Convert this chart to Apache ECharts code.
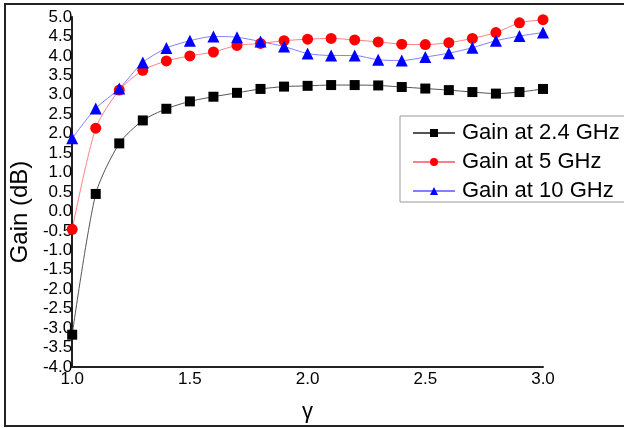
<!DOCTYPE html>
<html>
<head>
<meta charset="utf-8">
<script src="https://cdn.jsdelivr.net/npm/echarts@6/dist/echarts.min.js"></script>
<style>
  html, body { margin: 0; padding: 0; background: #fff; }
  #chart { width: 624px; height: 428px; }
</style>
</head>
<body>
<div id="chart"></div>
<script>
// Gain versus gamma at three frequencies
const gamma = [1.0, 1.1, 1.2, 1.3, 1.4, 1.5, 1.6, 1.7, 1.8, 1.9, 2.0,
               2.1, 2.2, 2.3, 2.4, 2.5, 2.6, 2.7, 2.8, 2.9, 3.0];
const gain24 = [-3.17, 0.45, 1.75, 2.34, 2.64, 2.83, 2.95, 3.05, 3.15, 3.21, 3.23,
                3.25, 3.25, 3.24, 3.20, 3.16, 3.12, 3.07, 3.03, 3.07, 3.15];
const gain5 = [-0.46, 2.14, 3.12, 3.63, 3.87, 4.00, 4.10, 4.27, 4.32, 4.39, 4.43,
               4.45, 4.41, 4.36, 4.30, 4.29, 4.34, 4.45, 4.60, 4.85, 4.93];
const gain10 = [1.88, 2.65, 3.16, 3.83, 4.20, 4.39, 4.50, 4.48, 4.37, 4.24, 4.06,
                4.01, 4.01, 3.90, 3.88, 3.97, 4.07, 4.21, 4.39, 4.51, 4.60];
const seriesNames = ['Gain at 2.4 GHz', 'Gain at 5 GHz', 'Gain at 10 GHz'];

const FONT = '"Liberation Sans", Arial, sans-serif';
const pairs = ys => gamma.map((g, i) => [g, ys[i]]);

const chart = echarts.init(document.getElementById('chart'), null, { renderer: 'canvas' });

function lineSeries(name, ys, symbol, size, markColor, lineColor) {
  return {
    name: name,
    type: 'line',
    data: pairs(ys),
    smooth: 0.25,
    symbol: symbol,
    symbolSize: size,
    showAllSymbol: true,
    clip: false,
    itemStyle: { color: markColor },
    lineStyle: { color: lineColor, width: 1 },
    emphasis: { disabled: true },
    animation: false
  };
}

chart.setOption({
  animation: false,
  backgroundColor: '#fff',
  textStyle: { fontFamily: FONT },
  grid: { left: 72, right: 81, top: 17, bottom: 59, containLabel: false },
  xAxis: {
    type: 'value',
    min: 1.0, max: 3.0, interval: 0.5,
    name: 'γ',
    nameLocation: 'middle',
    nameGap: 34,
    nameTextStyle: { fontSize: 22, color: '#000', fontFamily: FONT },
    axisLine: { show: true, onZero: false, lineStyle: { color: '#222', width: 2 } },
    axisTick: { show: false },
    splitLine: { show: false },
    axisLabel: {
      color: '#000', fontSize: 17, fontFamily: FONT, margin: 4,
      formatter: v => v.toFixed(1)
    }
  },
  yAxis: {
    type: 'value',
    min: -4.0, max: 5.0, interval: 0.5,
    name: 'Gain (dB)',
    nameLocation: 'middle',
    nameGap: 32,
    nameTextStyle: { fontSize: 24, color: '#000', fontFamily: FONT, padding: [0, 0, 0, -40] },
    axisLine: { show: true, onZero: false, lineStyle: { color: '#222', width: 2 } },
    axisTick: { show: false },
    splitLine: { show: false },
    axisLabel: {
      color: '#000', fontSize: 17, fontFamily: FONT, margin: 0,
      formatter: v => v.toFixed(1)
    }
  },
  legend: {
    left: 400, top: 116,
    orient: 'vertical',
    itemWidth: 42, itemHeight: 10, itemGap: 7,
    padding: [6, 40, 0, 12],
    borderColor: '#999', borderWidth: 1,
    backgroundColor: '#fff',
    textStyle: { fontSize: 22, color: '#000', fontFamily: FONT, padding: [0, 0, 0, 2] },
    data: seriesNames
  },
  series: [
    lineSeries(seriesNames[0], gain24, 'rect', 10, '#000', '#555'),
    lineSeries(seriesNames[1], gain5, 'circle', 11, '#ff0000', '#ff8080'),
    lineSeries(seriesNames[2], gain10, 'triangle', 12, '#0000ff', '#8080ff')
  ],
  graphic: [{
    type: 'rect',
    silent: true,
    z: 100,
    shape: { x: 5, y: 4, width: 660, height: 422 },
    style: { fill: 'none', stroke: '#222', lineWidth: 2 }
  }]
});
</script>
</body>
</html>
